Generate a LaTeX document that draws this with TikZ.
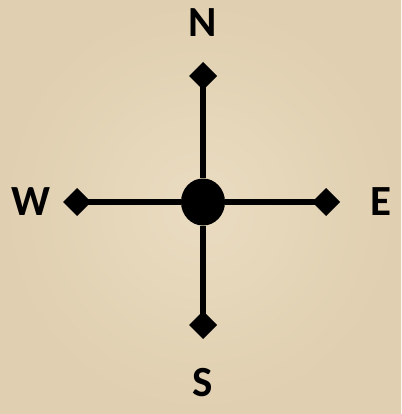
\documentclass[tikz,border=0pt]{standalone}
\usepackage{fontspec}
\setmainfont{Carlito}
\usepackage{xcolor}
\usetikzlibrary{positioning, shapes.geometric}
\definecolor{parchment}{RGB}{234,220,193}
\definecolor{parchmentdark}{RGB}{224,207,176}

\begin{document}
\begin{tikzpicture}[x=1pt, y=-1pt,
        hub/.style = {ellipse, fill=black, minimum width=44pt, minimum height=47pt, inner sep=0pt},
        tip/.style = {diamond, fill=black, minimum size=28pt, inner sep=0pt, outer sep=0pt},
        arm/.style = {line width=5.5pt, black},
        dirlabel/.style = {font=\fontsize{43}{43}\selectfont\bfseries, text=black, inner sep=0pt}]
        % parchment background
        \shade[inner color=parchment, outer color=parchmentdark] (0,0) rectangle (401,414);
        \useasboundingbox (0,0) rectangle (401,414);
        \node[hub] (c) at (203,202) {};
        \node[tip] (n) at (203,76) {};
        \node[tip] (s) at (203,325) {};
        \node[tip] (w) at (77,202) {};
        \node[tip] (e) at (326,202) {};
        \draw[arm] (c) -- (n.center);
        \draw[arm] (c) -- (s.center);
        \draw[arm] (c) -- (w.center);
        \draw[arm] (c) -- (e.center);
        \node[dirlabel] (nl) at (203,23) {N};
        \node[dirlabel] (sl) at (203,383) {S};
        \node[dirlabel] (wl) at (31,202) {W};
        \node[dirlabel] (el) at (381,202) {E};
\end{tikzpicture}
\end{document}
